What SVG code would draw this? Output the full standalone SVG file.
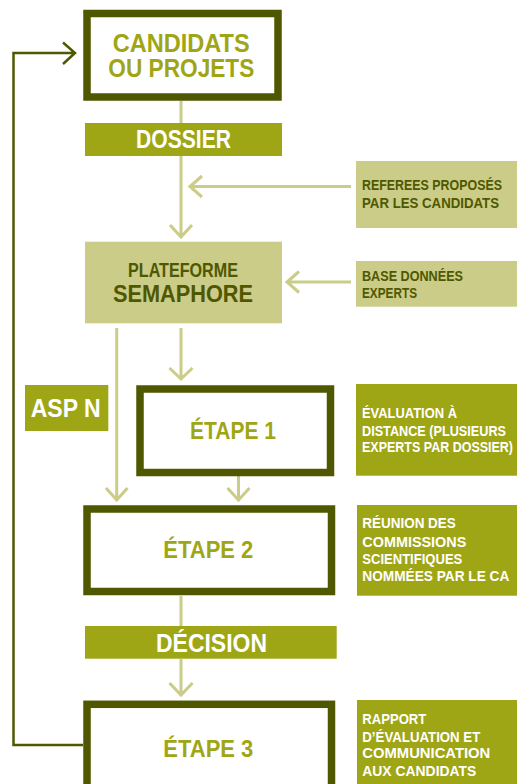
<svg xmlns="http://www.w3.org/2000/svg" width="517" height="784" viewBox="0 0 517 784">
<style>
.bg{fill:#ffffff}
.step{fill:#ffffff;stroke:#4f5800;stroke-width:7.5}
.bar{fill:#9fa616}
.light{fill:#cacc88}
.lc{fill:none;stroke:#cacc88;stroke-width:3}
.dc{fill:none;stroke:#4f5800;stroke-width:2.5}
text{font-family:"Liberation Sans",Arial,sans-serif;font-weight:bold}
.w{fill:#ffffff}
.g{fill:#9fa616}
.d{fill:#4f5800}
.s{font-size:15px}
</style>
<rect class="bg" x="0" y="0" width="517" height="784"/>
<g id="connectors">
  <path class="lc" d="M181,101 V123 M181,156 V237 M170,225 L181,237 L192,225"/>
  <path class="lc" d="M351,186.5 H190 M202,176 L190,186.5 L202,197"/>
  <path class="lc" d="M351,282 H287 M299,271.5 L287,282 L299,292.5"/>
  <path class="lc" d="M181,328 V379 M169.5,368 L181,379 L192.5,368"/>
  <path class="lc" d="M116.7,328 V500 M106,488 L116.7,500 L127.5,488"/>
  <path class="lc" d="M238.5,476 V500 M227.5,488 L238.5,500 L249.5,488"/>
  <path class="lc" d="M181,596 V626 M181,659 V695 M169.5,683 L181,695 L192.5,683"/>
  <path class="dc" d="M83,745 H13.5 V53 H75 M63,42.5 L75,53 L63,64"/>
</g>
<g id="candidats">
  <rect class="step" x="87" y="13.5" width="191" height="83.5" stroke-width="7"/>
  <text class="g" x="112.7" y="51.7" font-size="25.5" textLength="137" lengthAdjust="spacingAndGlyphs">CANDIDATS</text>
  <text class="g" x="108.3" y="77" font-size="25.5" textLength="146" lengthAdjust="spacingAndGlyphs">OU PROJETS</text>
</g>
<g id="dossier">
  <rect class="bar" x="85" y="123" width="197" height="33"/>
  <text class="w" x="136" y="148" font-size="25" textLength="95" lengthAdjust="spacingAndGlyphs">DOSSIER</text>
</g>
<g id="referees">
  <rect class="light" x="356" y="161" width="161" height="67"/>
  <text class="d s" x="362" y="190" textLength="140" lengthAdjust="spacingAndGlyphs">REFEREES PROPOSÉS</text>
  <text class="d s" x="362" y="208" textLength="137" lengthAdjust="spacingAndGlyphs">PAR LES CANDIDATS</text>
</g>
<g id="semaphore">
  <rect class="light" x="85" y="241.7" width="197" height="81.6"/>
  <text class="d" x="128" y="276.7" font-size="19.5" textLength="110" lengthAdjust="spacingAndGlyphs">PLATEFORME</text>
  <text class="d" x="113" y="301.7" font-size="24" textLength="140" lengthAdjust="spacingAndGlyphs">SEMAPHORE</text>
</g>
<g id="base-experts">
  <rect class="light" x="356" y="261" width="161" height="45.7"/>
  <text class="d s" x="362" y="280.7" textLength="101" lengthAdjust="spacingAndGlyphs">BASE DONNÉES</text>
  <text class="d s" x="362" y="298.3" textLength="55" lengthAdjust="spacingAndGlyphs">EXPERTS</text>
</g>
<g id="aspn">
  <rect class="bar" x="25" y="385" width="83.3" height="46"/>
  <text class="w" x="30.7" y="416.7" font-size="26" textLength="70" lengthAdjust="spacingAndGlyphs">ASP N</text>
</g>
<g id="etape1">
  <rect class="step" x="140" y="389" width="190.5" height="83.5"/>
  <text class="g" x="190" y="439.3" font-size="24" textLength="86" lengthAdjust="spacingAndGlyphs">ÉTAPE 1</text>
</g>
<g id="evaluation">
  <rect class="bar" x="356" y="384" width="161" height="91.7"/>
  <text class="w s" x="362" y="417.7" textLength="95" lengthAdjust="spacingAndGlyphs">ÉVALUATION À</text>
  <text class="w s" x="362" y="435.7" textLength="144" lengthAdjust="spacingAndGlyphs">DISTANCE (PLUSIEURS</text>
  <text class="w s" x="362" y="451.5" textLength="151" lengthAdjust="spacingAndGlyphs">EXPERTS PAR DOSSIER)</text>
</g>
<g id="etape2">
  <rect class="step" x="87" y="509" width="244.5" height="82.5"/>
  <text class="g" x="163.3" y="558.3" font-size="24.5" textLength="90" lengthAdjust="spacingAndGlyphs">ÉTAPE 2</text>
</g>
<g id="reunion">
  <rect class="bar" x="357" y="505" width="160" height="90.7"/>
  <text class="w s" x="362.3" y="528.3" textLength="93.5" lengthAdjust="spacingAndGlyphs">RÉUNION DES</text>
  <text class="w s" x="362.3" y="546.7" textLength="104" lengthAdjust="spacingAndGlyphs">COMMISSIONS</text>
  <text class="w s" x="362.3" y="564.3" textLength="100" lengthAdjust="spacingAndGlyphs">SCIENTIFIQUES</text>
  <text class="w s" x="362.3" y="581" textLength="147" lengthAdjust="spacingAndGlyphs">NOMMÉES PAR LE CA</text>
</g>
<g id="decision">
  <rect class="bar" x="85" y="626" width="251.7" height="32.7"/>
  <text class="w" x="156" y="651.7" font-size="26" textLength="111" lengthAdjust="spacingAndGlyphs">DÉCISION</text>
</g>
<g id="etape3">
  <rect class="step" x="87" y="704.3" width="244.5" height="86"/>
  <text class="g" x="163.3" y="756.7" font-size="24.5" textLength="90" lengthAdjust="spacingAndGlyphs">ÉTAPE 3</text>
</g>
<g id="rapport">
  <rect class="bar" x="357" y="700" width="160" height="84"/>
  <text class="w s" x="362.3" y="724.3" textLength="64" lengthAdjust="spacingAndGlyphs">RAPPORT</text>
  <text class="w s" x="362.3" y="741.7" textLength="118" lengthAdjust="spacingAndGlyphs">D’ÉVALUATION ET</text>
  <text class="w s" x="362.3" y="758.3" textLength="128" lengthAdjust="spacingAndGlyphs">COMMUNICATION</text>
  <text class="w s" x="362.3" y="776" textLength="114" lengthAdjust="spacingAndGlyphs">AUX CANDIDATS</text>
</g>
</svg>
